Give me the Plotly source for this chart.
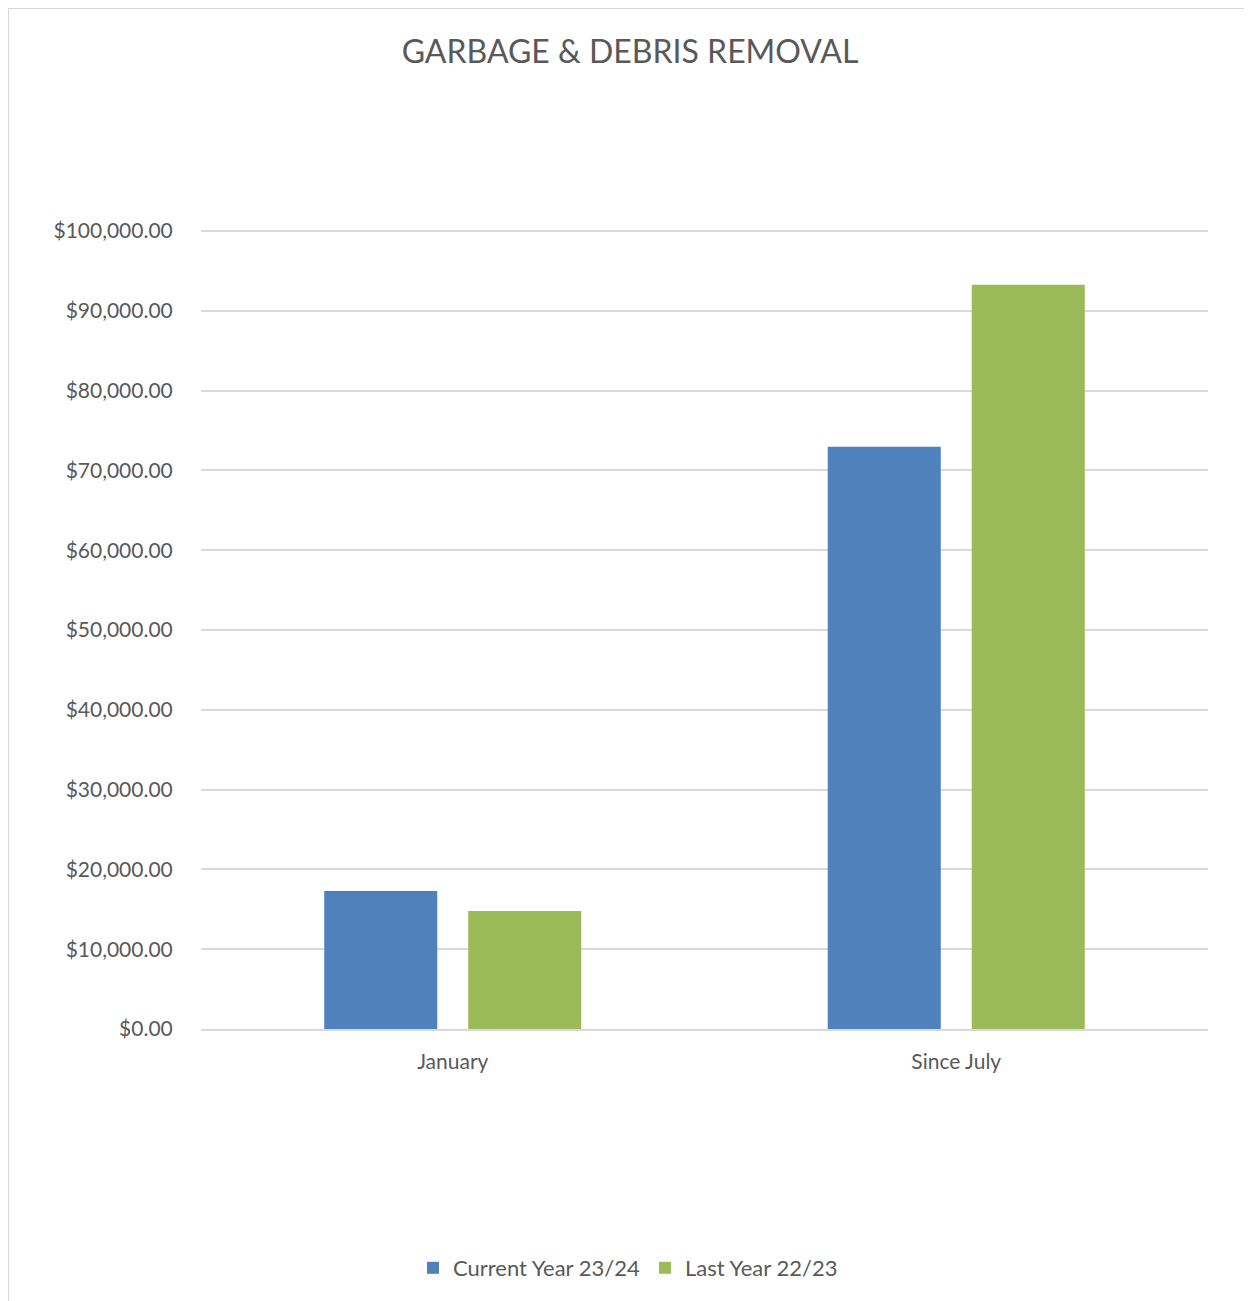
import plotly.graph_objects as go

categories = ["January", "Since July"]
current_year = [17300, 72950]
last_year = [14800, 93250]
series_names = ["Current Year 23/24", "Last Year 22/23"]
colors = ["#4f81bd", "#9bbb59"]
tick_vals = [0, 10000, 20000, 30000, 40000, 50000, 60000, 70000, 80000, 90000, 100000]
tick_text = ["$" + format(v, ",.2f") for v in tick_vals]

FONT = "Lato, 'Open Sans', sans-serif"
GREY = "#595959"

fig = go.Figure()
fig.add_trace(go.Bar(x=categories, y=current_year, name=series_names[0],
                     marker=dict(color=colors[0], line=dict(width=0))))
fig.add_trace(go.Bar(x=categories, y=last_year, name=series_names[1],
                     marker=dict(color=colors[1], line=dict(width=0))))

# page has an 8px body margin; figure sized to fit the 1252x1301 window
W, H = 1244, 1293
L, R, T, B = 193, 44, 215, 272
pw, ph = W - L - R, H - T - B

fig.update_layout(
    width=W, height=H,
    margin=dict(l=L, r=R, t=T, b=B, pad=0),
    paper_bgcolor="white", plot_bgcolor="white",
    barmode="group", bargap=0.428, bargroupgap=0.215,
    font=dict(family=FONT, color=GREY, size=21),
    title=dict(text="GARBAGE &amp; DEBRIS REMOVAL", x=622 / W, xref="container",
               y=1 - 44 / H, yref="container", yanchor="middle", xanchor="center",
               font=dict(size=32, color=GREY, family=FONT)),
    legend=dict(orientation="h", x=620 / W, xref="container", xanchor="center",
                y=1 - 1260 / H, yref="container", yanchor="middle",
                font=dict(size=22, color=GREY), itemwidth=30,
                tracegroupgap=0, traceorder="normal"),
    showlegend=True,
)
fig.update_yaxes(range=[0, 101000], tickvals=tick_vals, ticktext=tick_text,
                 showgrid=True, gridcolor="#d9d9d9", gridwidth=2,
                 zeroline=False, showline=False,
                 ticks="outside", ticklen=23, tickcolor="rgba(0,0,0,0)",
                 tickfont=dict(size=21, color=GREY))
fig.update_xaxes(showgrid=False, showline=True, linecolor="#d9d9d9", linewidth=2,
                 ticks="outside", ticklen=13, tickcolor="rgba(0,0,0,0)",
                 tickfont=dict(size=21, color=GREY))

# chart border (Excel chart area outline)
fig.add_shape(type="rect", xref="paper", yref="paper",
              x0=(0 - L) / pw, x1=(W + 20 - L) / pw,
              y0=-(H + 20 - (H - B)) / ph, y1=((H - B) - 0) / ph,
              line=dict(color="#d9d9d9", width=2), fillcolor="rgba(0,0,0,0)",
              layer="below")

fig.write_html("out.html")
